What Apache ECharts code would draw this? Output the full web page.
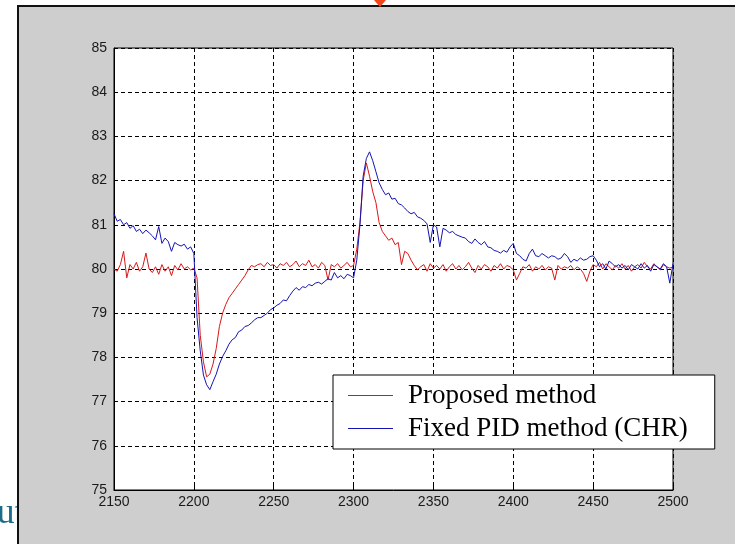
<!DOCTYPE html>
<html>
<head>
<meta charset="utf-8">
<script src="https://cdn.jsdelivr.net/npm/echarts@6/dist/echarts.min.js"></script>
<style>
html,body{margin:0;padding:0;background:#fff;}
#c{width:735px;height:544px;}
</style>
</head>
<body>
<div id="c"></div>
<script>
// sampling grid (time axis)
const sampleStart = 2150;
const sampleStep = 2;
const xTicks = [2150, 2200, 2250, 2300, 2350, 2400, 2450, 2500];
const yTicks = [75, 76, 77, 78, 79, 80, 81, 82, 83, 84, 85];
const seriesNames = ['Proposed method', 'Fixed PID method (CHR)'];

const proposed = [
80.0,79.95,80.1,80.4,79.8,80.1,80.0,80.15,79.95,80.05,
80.36,80.0,79.92,80.05,79.88,80.1,79.95,80.05,79.85,80.08,
79.98,80.12,80.0,80.05,79.98,80.02,79.8,78.5,77.9,77.56,
77.62,77.85,78.2,78.7,79.0,79.2,79.35,79.45,79.55,79.65,
79.75,79.85,79.98,80.08,80.05,80.1,80.12,80.05,80.15,80.08,
80.1,80.02,80.12,80.08,80.15,80.05,80.1,80.18,80.05,80.12,
80.08,80.2,80.05,80.1,80.02,80.15,80.08,79.75,80.1,80.05,
80.12,80.02,80.08,80.15,80.05,80.08,80.45,81.05,82.0,82.4,
82.1,81.75,81.5,81.05,80.85,80.75,80.65,80.7,80.55,80.6,
80.1,80.4,80.35,80.2,80.08,79.98,80.05,80.1,79.95,80.12,
80.02,80.08,80.0,80.1,79.95,80.05,80.12,80.0,80.08,79.98,
80.05,80.15,80.02,79.92,80.08,80.0,80.1,80.05,79.95,80.08,
80.02,80.12,80.0,80.08,80.05,79.98,79.75,79.9,80.05,80.02,
80.1,79.95,80.05,80.0,80.08,79.98,80.05,80.02,79.75,80.08,
80.0,80.05,80.02,80.08,79.98,80.05,80.0,79.9,79.72,79.95,
80.1,80.05,80.15,80.0,80.12,80.05,79.98,80.08,80.02,80.12,
80.0,80.08,79.95,80.05,80.1,80.02,80.15,80.05,80.0,80.12,
80.05,79.98,80.1,80.05,80.02,80.05
];

const fixedPID = [
81.25,81.08,81.12,81.0,81.05,80.92,80.98,80.85,80.9,80.8,
80.88,80.82,80.75,80.66,80.96,80.58,80.7,80.62,80.4,80.6,
80.55,80.52,80.56,80.45,80.5,80.35,78.9,78.15,77.6,77.38,
77.27,77.45,77.62,77.85,78.02,78.15,78.3,78.4,78.45,78.58,
78.62,78.7,78.72,78.78,78.85,78.9,78.9,78.95,79.0,79.08,
79.12,79.18,79.22,79.3,79.28,79.4,79.5,79.58,79.52,79.6,
79.58,79.65,79.62,79.68,79.7,79.66,79.72,79.78,79.75,79.92,
79.8,79.85,79.78,79.88,79.85,79.8,80.2,81.0,82.1,82.5,
82.65,82.45,82.2,81.95,81.8,81.68,81.72,81.58,81.6,81.48,
81.45,81.38,81.3,81.25,81.28,81.18,81.15,81.1,81.02,80.6,
81.0,80.95,80.5,80.92,80.88,80.82,80.85,80.78,80.75,80.72,
80.7,80.62,80.58,80.68,80.6,80.55,80.62,80.5,80.48,80.42,
80.4,80.36,80.42,80.38,80.5,80.58,80.35,80.3,80.22,80.18,
80.35,80.45,80.3,80.28,80.35,80.3,80.25,80.3,80.28,80.22,
80.25,80.35,80.28,80.15,80.22,80.18,80.25,80.2,80.22,80.28,
80.3,80.2,80.05,80.12,80.0,80.18,80.12,80.05,80.1,80.02,
80.08,79.98,80.1,80.05,80.0,80.12,80.02,80.08,79.95,80.1,
80.05,80.0,80.12,80.05,79.68,80.12
];

function pairs(vals){ return vals.map((v,i)=>[sampleStart + i*sampleStep, v]); }

const chart = echarts.init(document.getElementById('c'), null, {renderer:'canvas'});
const labelFont = {fontFamily:'Liberation Sans, Arial, sans-serif', fontSize:14, color:'#1a1a1a', formatter:(v)=>String(v)};
chart.setOption({
  animation:false,
  backgroundColor:'#ffffff',
  graphic:[
    {type:'text', z:-20, left:-3, top:496, style:{text:'ut', font:'35px "Liberation Serif", serif', fill:'#1d6d8a'}},
    {type:'rect', z:-10, shape:{x:18, y:6, width:740, height:560}, style:{fill:'#cecece', stroke:'#111', lineWidth:2}},
    {type:'polygon', z:-5, shape:{points:[[374,0],[386,0],[380,7]]}, style:{fill:'#f2461a'}}
  ],
  grid:{left:114, top:48, right:62, bottom:54, show:true, backgroundColor:'#ffffff', borderColor:'#000', borderWidth:1},
  xAxis:{
    type:'value', min:xTicks[0], max:xTicks[xTicks.length-1], interval:50,
    axisLine:{show:true, onZero:false, lineStyle:{color:'#000', width:1}},
    axisTick:{show:true, inside:true, length:4, lineStyle:{color:'#000'}},
    axisLabel:Object.assign({margin:5, showMinLabel:true, showMaxLabel:true}, labelFont),
    splitLine:{show:true, lineStyle:{color:'#000', type:[4,3], width:1}}
  },
  yAxis:{
    type:'value', min:yTicks[0], max:yTicks[yTicks.length-1], interval:1,
    axisLine:{show:true, onZero:false, lineStyle:{color:'#000', width:1}},
    axisTick:{show:true, inside:true, length:4, lineStyle:{color:'#000'}},
    axisLabel:Object.assign({margin:7}, labelFont),
    splitLine:{show:true, lineStyle:{color:'#000', type:[4,3], width:1}}
  },
  legend:{
    orient:'vertical', left:333, top:375,
    backgroundColor:'#ffffff', borderColor:'#000', borderWidth:1,
    padding:[7,27,7,15], itemGap:6, itemWidth:45, itemHeight:1, icon:'rect',
    data:seriesNames,
    textStyle:{fontFamily:'Liberation Serif, Times New Roman, serif', fontSize:27, color:'#000', padding:[0,0,0,10]}
  },
  series:[
    {name:seriesNames[0], type:'line', data:pairs(proposed), symbol:'none', lineStyle:{color:'#d81818', width:1}, itemStyle:{color:'#d81818'}, z:3},
    {name:seriesNames[1], type:'line', data:pairs(fixedPID), symbol:'none', lineStyle:{color:'#1414b4', width:1}, itemStyle:{color:'#1414b4'}, z:4}
  ]
});
</script>
</body>
</html>
